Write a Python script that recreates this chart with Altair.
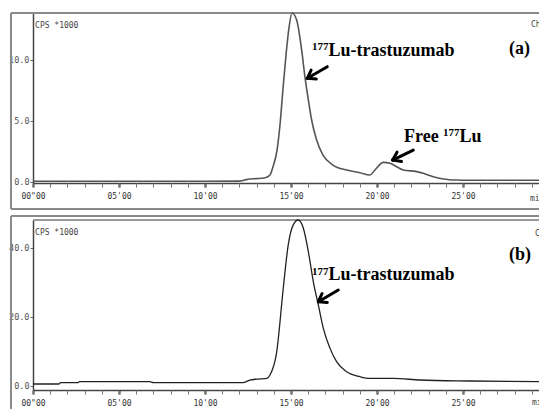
import math
import altair as alt
import pandas as pd

# ---------------- data ----------------
# panel (a): retention time (min) and counts (CPS * 1000)
time_a = [0, 2, 4, 6, 8, 10, 12.0, 12.3, 12.6, 13.0, 13.5, 13.78, 13.95, 14.19, 14.36,
          14.53, 14.71, 14.88, 15.06, 15.33, 15.62, 15.81, 16.01, 16.20, 16.49, 16.86,
          17.44, 18.24, 19.01, 19.59, 19.88, 20.37, 20.76, 21.15, 21.53, 22.31, 22.69,
          23.27, 23.85, 24.63, 25.41, 27.0, 29.42]
cps_a = [0.06, 0.06, 0.06, 0.06, 0.06, 0.06, 0.07, 0.16, 0.25, 0.28, 0.35, 0.57, 1.23,
         2.62, 4.67, 7.54, 10.4, 12.6, 13.85, 13.28, 10.82, 8.63, 6.72, 5.08, 3.44, 2.21,
         1.39, 0.98, 0.76, 0.57, 0.98, 1.61, 1.53, 1.25, 0.98, 0.85, 0.71, 0.43, 0.25,
         0.16, 0.14, 0.14, 0.14]

# panel (b)
time_b = [0, 1.5, 1.6, 2.6, 2.7, 6.8, 7.0, 12.2, 12.6, 13.0, 13.6, 13.78, 14.17, 14.55,
          14.84, 15.13, 15.42, 15.72, 16.01, 16.30, 16.59, 16.88, 17.27, 17.66, 18.24,
          19.01, 19.59, 20.95, 22.5, 25.4, 29.42]
cps_b = [0.58, 0.58, 0.96, 0.96, 1.25, 1.25, 0.96, 0.96, 1.7, 2.0, 2.2, 3.2, 9.9, 28.3,
         40.9, 46.7, 48.1, 45.7, 38.9, 30.2, 23.5, 16.7, 10.9, 7.0, 4.1, 2.7, 2.2, 2.2,
         1.74, 1.45, 1.25]

# axis ticks and labels
x_tick_values = [0, 5, 10, 15, 20, 25]
x_tick_labels = ['00"00', "05'00", "10'00", "15'00", "20'00", "25'00"]
x_minor_values = list(range(0, 30))
y_ticks_a = [0, 5, 10]
y_ticks_b = [0, 20, 40]

# annotations (positions in data units: minutes, CPS*1000)
ann_a_main_x = [17.18, 21.57, 24.80]
ann_a_main_y = [10.33, 3.28, 3.28]
ann_a_main_t = ["Lu-trastuzumab", "Free", "Lu"]
ann_a_sup_x = [16.22, 23.84]
ann_a_sup_y = [10.82, 3.73]
ann_a_sup_t = ["177", "177"]
ann_a_tag = ["(a)"]
ann_a_tag_x = [27.67]
ann_a_tag_y = [10.49]
ann_a_small_x = [0.12, 28.95, 28.90]
ann_a_small_y = [12.62, 12.70, -1.56]
ann_a_small_t = ["CPS *1000", "Ch", "min"]
arrow_a_tail = [(17.11, 9.45), (22.11, 2.62)]
arrow_a_head = [(15.95, 8.50), (20.91, 1.80)]

ann_b_main_x = [17.18]
ann_b_main_y = [30.58]
ann_b_main_t = ["Lu-trastuzumab"]
ann_b_sup_x = [16.22]
ann_b_sup_y = [32.17]
ann_b_sup_t = ["177"]
ann_b_tag = ["(b)"]
ann_b_tag_x = [27.67]
ann_b_tag_y = [36.52]
ann_b_small_x = [0.12, 29.19, 29.01]
ann_b_small_y = [43.77, 43.48, -5.51]
ann_b_small_t = ["CPS *1000", "Ch", "min"]
arrow_b_tail = [(17.75, 27.83)]
arrow_b_head = [(16.59, 24.43)]

# ---------------- layout ----------------
W, H = 506, 377
X_END = 29.42
A_DOM, A_RNG = [-0.082, 13.85], [170, 0]
B_DOM, B_RNG = [-1.16, 48.1], [H, 207]
MONO = "DejaVu Sans Mono"
SERIF = "Liberation Serif"

xscale = alt.Scale(domain=[0, X_END], nice=False, zero=False)


def ysc(dom, rng):
    return alt.Scale(domain=dom, range=rng, nice=False, zero=False)


def q(s):
    return "'" + s + "'" if "'" not in s else '"' + s + '"'


LEXPR = " : ".join(f"datum.value === {v} ? {q(l)}" for v, l in zip(x_tick_values, x_tick_labels)) + " : ''"


def x_major(offset):
    return alt.Axis(orient="bottom", offset=offset, values=x_tick_values, labelExpr=LEXPR,
                    tickSize=4, tickWidth=2, tickColor="#222", domain=True, domainColor="#444",
                    domainWidth=1.5, labelFont=MONO, labelFontSize=8, labelColor="#333",
                    labelPadding=5, labelFlush=False, labelOverlap=False, grid=False, title=None)


def x_minor(offset):
    return alt.Axis(orient="bottom", offset=offset, values=x_minor_values, labels=False,
                    tickSize=4, tickWidth=1, tickColor="#777", domain=False, grid=False, title=None)


def y_axis(vals):
    return alt.Axis(orient="left", values=vals, format=".1f", tickSize=3, tickColor="#666",
                    domainColor="#444", domainWidth=1.5, labelFont=MONO, labelFontSize=8.5,
                    labelColor="#555", labelPadding=1, grid=False, title=None)


dummy = pd.DataFrame({"k": [0]})


def hrule(y, x1, x2, color="#8a8a8a", w=2):
    return alt.Chart(dummy).mark_rule(color=color, strokeWidth=w).encode(
        x=alt.value(x1), x2=alt.value(x2), y=alt.value(y))


def vrule(x, y1, y2, color="#8a8a8a", w=2):
    return alt.Chart(dummy).mark_rule(color=color, strokeWidth=w).encode(
        x=alt.value(x), y=alt.value(y1), y2=alt.value(y2))


def text_layer(xs, ys, ts, dom, rng, **mk):
    df = pd.DataFrame({"x": xs, "y": ys, "t": ts})
    return alt.Chart(df).mark_text(align="left", baseline="alphabetic", **mk).encode(
        x=alt.X("x:Q", scale=xscale, axis=None),
        y=alt.Y("y:Q", scale=ysc(dom, rng), axis=None),
        text="t:N")


def arrow_layer(tails, heads, dom, rng):
    pxu = W / X_END
    pyu = abs(rng[0] - rng[1]) / (dom[1] - dom[0])
    rows = []
    for (tx, ty), (hx, hy) in zip(tails, heads):
        rows.append({"x": tx, "y": ty, "x2": hx, "y2": hy})
        dx = (hx - tx) * pxu
        dy = -(hy - ty) * pyu
        L = math.hypot(dx, dy)
        bx, by = -dx / L, -dy / L
        for ang in (35, -35):
            r = math.radians(ang)
            rx = bx * math.cos(r) - by * math.sin(r)
            ry = bx * math.sin(r) + by * math.cos(r)
            rows.append({"x": hx, "y": hy, "x2": hx + 9 * rx / pxu, "y2": hy - 9 * ry / pyu})
    df = pd.DataFrame(rows)
    s = ysc(dom, rng)
    return alt.Chart(df).mark_rule(color="black", strokeWidth=3, strokeCap="round").encode(
        x=alt.X("x:Q", scale=xscale, axis=None), x2="x2:Q",
        y=alt.Y("y:Q", scale=s, axis=None), y2="y2:Q")


df_a = pd.DataFrame({"t": time_a, "v": cps_a})
df_b = pd.DataFrame({"t": time_b, "v": cps_b})

line_a = alt.Chart(df_a).mark_line(color="#555", strokeWidth=1.6, interpolate="monotone").encode(
    x=alt.X("t:Q", scale=xscale, axis=x_major(-(H - 170))),
    y=alt.Y("v:Q", scale=ysc(A_DOM, A_RNG), axis=y_axis(y_ticks_a)))
minor_a = alt.Chart(df_a).mark_line(opacity=0).encode(
    x=alt.X("t:Q", scale=xscale, axis=x_minor(-(H - 170))),
    y=alt.Y("v:Q", scale=ysc(A_DOM, A_RNG), axis=None))

line_b = alt.Chart(df_b).mark_line(color="#222", strokeWidth=1.3, interpolate="monotone").encode(
    x=alt.X("t:Q", scale=xscale, axis=x_major(0)),
    y=alt.Y("v:Q", scale=ysc(B_DOM, B_RNG), axis=y_axis(y_ticks_b)))
minor_b = alt.Chart(df_b).mark_line(opacity=0).encode(
    x=alt.X("t:Q", scale=xscale, axis=x_minor(0)),
    y=alt.Y("v:Q", scale=ysc(B_DOM, B_RNG), axis=None))

big = dict(font=SERIF, fontSize=18, fontWeight="bold", color="black")
sup = dict(font=SERIF, fontSize=11, fontWeight="bold", color="black")
small = dict(font=MONO, fontSize=8, color="#444")

layers = [
    # frames
    hrule(0, -22, W), vrule(-22, 0, 196), hrule(196, -22, W),
    hrule(203, -22, W), vrule(-22, 203, H + 40), hrule(207, 0, W, color="#777", w=1.5),
    line_a, minor_a, line_b, minor_b,
    text_layer(ann_a_main_x, ann_a_main_y, ann_a_main_t, A_DOM, A_RNG, **big),
    text_layer(ann_a_sup_x, ann_a_sup_y, ann_a_sup_t, A_DOM, A_RNG, **sup),
    text_layer(ann_a_tag_x, ann_a_tag_y, ann_a_tag, A_DOM, A_RNG, **big),
    text_layer(ann_a_small_x, ann_a_small_y, ann_a_small_t, A_DOM, A_RNG, **small),
    arrow_layer(arrow_a_tail, arrow_a_head, A_DOM, A_RNG),
    text_layer(ann_b_main_x, ann_b_main_y, ann_b_main_t, B_DOM, B_RNG, **big),
    text_layer(ann_b_sup_x, ann_b_sup_y, ann_b_sup_t, B_DOM, B_RNG, **sup),
    text_layer(ann_b_tag_x, ann_b_tag_y, ann_b_tag, B_DOM, B_RNG, **big),
    text_layer(ann_b_small_x, ann_b_small_y, ann_b_small_t, B_DOM, B_RNG, **small),
    arrow_layer(arrow_b_tail, arrow_b_head, B_DOM, B_RNG),
]

chart = alt.layer(*layers).resolve_scale(y="independent").resolve_axis(
    x="independent", y="independent"
).properties(
    width=W, height=H,
    padding={"left": 33, "top": 13, "right": 0, "bottom": 19},
    autosize=alt.AutoSizeParams(type="none"),
    background="white",
).configure_view(stroke=None)

chart.save("out.html", embed_options={"renderer": "svg", "actions": False})
